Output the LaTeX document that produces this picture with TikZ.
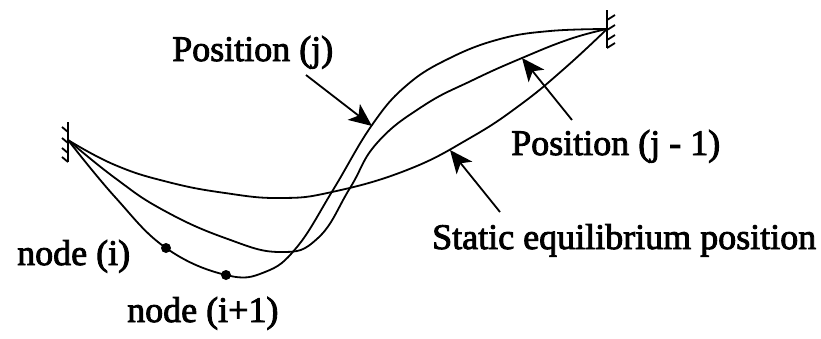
\documentclass[tikz,border=0pt]{standalone}
\usepackage{fontspec}
\setmainfont[FakeBold=2.5]{Liberation Serif}
\usetikzlibrary{arrows.meta}
\tikzset{
  curveline/.style={line width=1.8pt,line cap=round,line join=round},
  wall/.style={line width=1.8pt},
  pointer/.style={line width=1.8pt,-{Stealth[length=23pt,width=20pt,inset=6pt]}},
  lab/.style={font=\fontsize{36}{40}\selectfont,inner sep=0pt,text=black},
  dotm/.style={circle,fill=black,inner sep=0pt,minimum size=10pt}
}
\begin{document}
\begin{tikzpicture}[x=1pt,y=-1pt]
\useasboundingbox (0,0) rectangle (821,338);
\coordinate (L) at (68,140);
\coordinate (R) at (607,29);
% walls
\draw[wall] (68,122) -- (68,162);
\foreach \y in {132,143,153,162}{\draw[wall] (68,\y) -- (62,\y-5);}
\draw[wall] (607,10) -- (607,48);
\foreach \y in {20,30,40,48}{\draw[wall] (607,\y) -- (615,\y-5);}
% curves
\draw[curveline] plot[smooth,tension=0.75] coordinates {(L) (115,165) (168,182) (225,193) (280,198) (332,192) (407,170) (470,138) (520,105) (565,68) (R)};
\draw[curveline] plot[smooth,tension=0.75] coordinates {(L) (115,178) (163,210) (225,238) (280,252) (318,238) (350,188) (377,143) (423,106) (473,80) (522,58) (570,39) (R)};
\draw[curveline] plot[smooth,tension=0.7] coordinates {(L) (115,197) (166,248) (226,275) (265,272) (297,247) (333,190) (372,125) (407,85) (450,58) (500,39) (550,31) (R)};
% dots
\node[dotm] (ni) at (166,248) {};
\node[dotm] (nj) at (226,275) {};
% labels
\node[lab,anchor=base west] (pj) at (172,61) {Position (j)};
\node[lab,anchor=base west] (pm) at (511,155) {Position (j - 1)};
\node[lab,anchor=base west] (st) at (432,249) {Static equilibrium position};
\node[lab,anchor=base west] (la) at (17,265) {node (i)};
\node[lab,anchor=base west] (lb) at (127,322) {node (i+1)};
% arrows
\coordinate (aj) at (372,126);
\coordinate (am) at (522,58);
\coordinate (as) at (450,150);
\coordinate (tj) at (306,75);
\coordinate (tm) at (572,120);
\coordinate (ts) at (500,212);
\draw[pointer] (tj) -- (aj);
\draw[pointer] (tm) -- (am);
\draw[pointer] (ts) -- (as);
\end{tikzpicture}
\end{document}
